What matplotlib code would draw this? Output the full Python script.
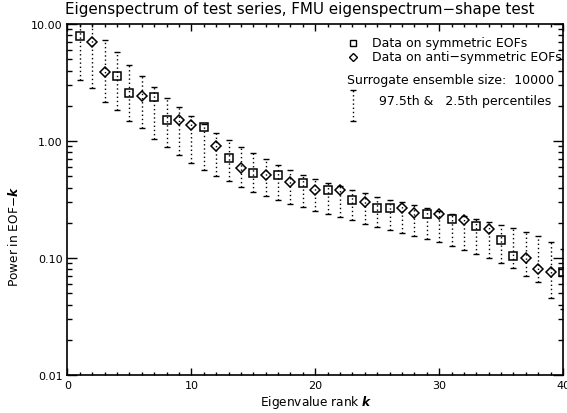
#!/usr/bin/env python3
import matplotlib
matplotlib.use("Agg")
import matplotlib.pyplot as plt
import numpy as np
from matplotlib.ticker import FixedLocator, FormatStrFormatter, NullFormatter, MultipleLocator

# symmetric-EOF data (squares)
sym_rank = [1, 4, 5, 7, 8, 11, 13, 15, 17, 19, 21, 23, 25, 26, 29, 31, 33, 35, 36, 40]
sym_power = [7.94, 3.61, 2.57, 2.38, 1.52, 1.31, 0.711, 0.532, 0.512, 0.435,
             0.380, 0.311, 0.269, 0.267, 0.239, 0.216, 0.187, 0.142, 0.1035, 0.0764]

# anti-symmetric-EOF data (diamonds)
anti_rank = [2, 3, 6, 9, 10, 12, 14, 16, 18, 20, 22, 24, 27, 28, 30, 32, 34, 37, 38, 39]
anti_power = [7.06, 3.91, 2.43, 1.50, 1.37, 0.912, 0.588, 0.515, 0.444, 0.381,
              0.381, 0.301, 0.269, 0.244, 0.236, 0.210, 0.177, 0.0994, 0.0805, 0.0764]

# surrogate percentiles for ranks 1..40
rank = np.arange(1, 41)
upper = [13.0, 12.0, 7.23, 5.73, 4.44, 3.56, 2.87, 2.33, 1.94, 1.63,
         1.40, 1.18, 1.03, 0.894, 0.782, 0.695, 0.627, 0.565, 0.515, 0.476,
         0.440, 0.412, 0.384, 0.357, 0.334, 0.315, 0.303, 0.286, 0.269, 0.254,
         0.239, 0.229, 0.214, 0.202, 0.190, 0.179, 0.166, 0.153, 0.136, 0.119]
lower = [3.32, 2.82, 2.17, 1.84, 1.48, 1.28, 1.04, 0.889, 0.755, 0.645,
         0.565, 0.505, 0.453, 0.405, 0.369, 0.339, 0.313, 0.290, 0.271, 0.254,
         0.236, 0.223, 0.210, 0.196, 0.185, 0.173, 0.164, 0.155, 0.1445, 0.136,
         0.126, 0.118, 0.108, 0.1007, 0.0901, 0.0826, 0.0706, 0.0619, 0.0455, 0.0367]

plt.rcParams["font.family"] = ["DejaVu Sans"]
fs_tick = 8
fs_lab = 8.7
fs_leg = 9.0

fig = plt.figure(figsize=(5.67, 4.14), dpi=100)
ax = fig.add_axes([0.119, 0.0918, 0.874, 0.8478])

dots = (0, (1, 2))
ax.vlines(rank, lower, upper, colors="black", linewidth=1, linestyles=[dots])
ax.plot(rank, upper, "_", color="black", ms=5, mew=1)
ax.plot(rank, lower, "_", color="black", ms=5, mew=1)
ax.plot(sym_rank, sym_power, "s", ms=5.2, mfc="none", mec="black", mew=1.1)
ax.plot(anti_rank, anti_power, "D", ms=4.6, mfc="none", mec="black", mew=1.1)

ax.set_yscale("log")
ax.set_xlim(0, 40)
ax.set_ylim(0.01, 10)
ax.yaxis.set_major_locator(FixedLocator([0.01, 0.1, 1, 10]))
ax.yaxis.set_major_formatter(FormatStrFormatter("%.2f"))
ax.yaxis.set_minor_formatter(NullFormatter())
ax.xaxis.set_major_locator(MultipleLocator(10))
ax.xaxis.set_minor_locator(MultipleLocator(1))
ax.tick_params(which="both", direction="in", top=True, right=True,
               labelsize=fs_tick, width=1, colors="black")
ax.tick_params(axis="y", which="major", length=7)
ax.tick_params(axis="y", which="minor", length=3.5)
ax.tick_params(axis="x", which="major", length=5)
ax.tick_params(axis="x", which="minor", length=2.5)
for s in ax.spines.values():
    s.set_linewidth(1.2)

# legend, drawn by hand like the original
tr = ax.transAxes
ax.plot([0.576], [0.946], "s", ms=5, mfc="none", mec="black", mew=1.0, transform=tr, clip_on=False)
ax.plot([0.576], [0.907], "D", ms=4.0, mfc="none", mec="black", mew=1.0, transform=tr, clip_on=False)
ax.text(0.614, 0.946, "Data on symmetric EOFs", fontsize=fs_leg, va="center", transform=tr)
ax.text(0.614, 0.907, "Data on anti\u2212symmetric EOFs", fontsize=fs_leg, va="center", transform=tr)
ax.text(0.565, 0.843, "Surrogate ensemble size:  10000", fontsize=fs_leg, va="center", transform=tr)
ax.plot([0.576, 0.576], [0.725, 0.813], color="black", lw=1, linestyle=dots, transform=tr)
ax.plot([0.576, 0.576], [0.725, 0.813], "_", color="black", ms=5, mew=1, transform=tr)
ax.text(0.629, 0.781, "97.5th &   2.5th percentiles", fontsize=fs_leg, va="center", transform=tr)

fig.text(0.529, 0.976, "Eigenspectrum of test series, FMU eigenspectrum\u2212shape test",
         fontsize=10.9, ha="center", va="center")
fig.text(0.557, 0.027, r"Eigenvalue rank $\mathbfit{k}$", fontsize=fs_lab, ha="center", va="center")
fig.text(0.025, 0.428, "Power in EOF\u2212$\\mathbfit{k}$", fontsize=fs_lab, ha="center",
         va="center", rotation=90)

fig.savefig("out.png", dpi=100)
